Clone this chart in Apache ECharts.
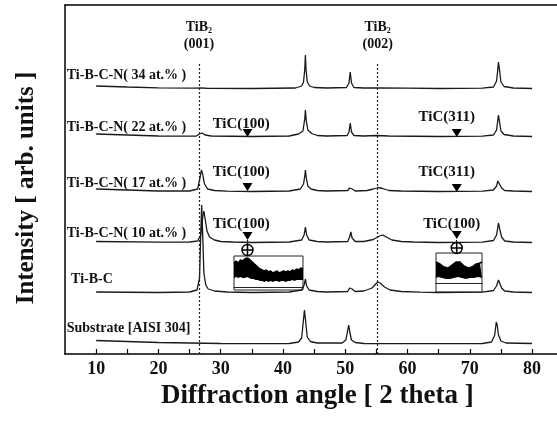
<!DOCTYPE html>
<html>
<head>
<meta charset="utf-8">
<script src="https://cdn.jsdelivr.net/npm/echarts@6/dist/echarts.min.js"></script>
<style>html,body{margin:0;padding:0;background:#fff;}#c{width:557px;height:421px;}</style>
</head>
<body>
<div id="c"></div>
<script>
// ---- data (2theta, intensity above each trace's baseline; arbitrary units) ----
const xTicks = [10, 20, 30, 40, 50, 60, 70, 80];
const traceNames = ['Ti-B-C-N( 34 at.% )', 'Ti-B-C-N( 22 at.% )', 'Ti-B-C-N( 17 at.% )', 'Ti-B-C-N( 10 at.% )', 'Ti-B-C', 'Substrate [AISI 304]'];
const traceOffsets = [265, 217, 162, 111, 61, 10];
const labelLevels = [279, 227, 171, 121, 75, 26];
const labelStarts = [5.2, 5.2, 5.2, 5.2, 5.9, 5.2];

const trace34 = [[10,3],[15,2],[20,1.2],[26,0.8],[27,1],[28,0.6],[35,0.5],[42,1],[43,3],[43.3,7],[43.5,20],[43.6,34],[43.7,20],[43.9,7],[44.3,3],[45,1.5],[47,1],[50.2,1.5],[50.6,6],[50.8,17],[51,6],[51.4,1.5],[53,1],[55,1],[60,0.8],[65,0.5],[72,0.8],[73.8,2],[74.3,8],[74.5,20],[74.6,27],[74.75,20],[75,7],[75.5,2.5],[77,1],[80,0.5]];
const trace22 = [[10,3],[15,2],[20,1],[26,0.8],[26.6,3],[27,4],[27.5,2],[28.5,1],[35,0.5],[41,1],[42.5,3],[43.2,6],[43.5,18],[43.6,27],[43.75,16],[44,7],[44.6,3.5],[45.5,1.5],[47,1],[50.3,1.5],[50.6,5],[50.8,14],[51,5],[51.4,1.5],[53,1],[55,1.5],[57,1],[65,0.5],[72,0.8],[73.8,2],[74.3,7],[74.5,17],[74.6,22],[74.75,16],[75,6],[75.5,2.5],[77,1],[80,0.5]];
const trace17 = [[10,3],[15,2],[20,1],[25,1],[26.3,3],[26.7,15],[26.9,22],[27.1,18],[27.4,8],[27.9,3],[29,1.5],[31,0.8],[35,0.5],[41,1],[42.8,3],[43.3,8],[43.5,16],[43.6,22],[43.75,14],[44,6],[44.5,3],[45.5,1.5],[47,1],[50.4,1.5],[50.7,4],[50.9,5],[51.1,3],[51.6,1],[53.5,1.5],[54.5,3],[55.3,4.5],[56,3.5],[57,1.5],[59,1],[65,0.5],[72,0.8],[73.8,2],[74.3,6],[74.5,11],[74.6,12],[74.8,9],[75.1,4],[75.6,1.5],[77,1],[80,0.5]];
const trace10 = [[10,1.5],[20,0.8],[25,1],[26.3,2],[26.8,8],[27.1,25],[27.3,32],[27.5,24],[27.8,12],[28.2,6],[29,3],[30,1.5],[32,1],[35,0.5],[41,1],[43,3],[43.4,8],[43.6,16],[43.8,8],[44.2,3],[45.5,1.5],[47,1],[50.4,1.5],[50.7,6],[50.9,11],[51.1,5],[51.6,1.5],[53,1.5],[54.5,3.5],[55.5,7],[56,8],[56.6,6],[57.5,3],[59,1.5],[61,1],[65,0.5],[72,0.8],[73.8,2.5],[74.3,8],[74.5,16],[74.6,20],[74.8,14],[75.1,6],[75.6,2],[77,1],[80,0.5]];
const traceTiBC = [[10,1],[20,0.5],[25,1],[26.2,3],[26.6,15],[26.8,60],[26.95,88],[27.1,60],[27.3,20],[27.6,8],[28,4],[29,2],[31,1],[35,0.5],[41,1],[43,3],[43.4,8],[43.6,14],[43.8,7],[44.2,3],[45.5,1.5],[47,1],[50.4,1.5],[50.7,5],[50.9,7],[51.1,4],[51.6,1.5],[53,2],[54.3,5],[55.2,11],[55.6,10],[56.3,6],[57.2,3],[59,1.5],[62,0.8],[65,0.5],[72,0.8],[73.8,2.5],[74.3,7],[74.6,13],[74.8,10],[75.1,5],[75.6,2],[77,1],[80,0.5]];
const traceSub = [[10,3.5],[15,2.5],[20,1.5],[25,1],[30,0.5],[35,0.3],[41,0.5],[42.5,2],[43.0,6],[43.3,25],[43.45,34],[43.6,25],[43.9,7],[44.4,2.5],[45.5,1],[49.5,1],[50.1,4],[50.4,14],[50.55,19],[50.7,13],[51,4],[51.6,1.5],[53,0.5],[60,0.3],[72,0.5],[73.5,2],[74.0,9],[74.25,22],[74.4,19],[74.6,9],[75,3],[75.8,1],[80,0.5]];
const traces = [trace34, trace22, trace17, trace10, traceTiBC, traceSub];

// reference lines (TiB2) and phase annotations
const tib2Pos = [26.5, 55.2];
const tib2Labels = ['(001)', '(002)'];
const ticLabels = ['TiC(100)', 'TiC(100)', 'TiC(100)', 'TiC(311)', 'TiC(311)', 'TiC(100)'];
const ticMarkX = [34.3, 34.3, 34.3, 67.9, 67.9, 67.9];
const ticTextX = [33.3, 33.3, 33.3, 66.3, 66.3, 67.1];
const ticTextY = [230, 182, 130, 237, 182, 130];
const ticMarkY = [221, 167, 118, 221, 166, 119];
const insetRingX = [34.3, 67.9];
const insetRingY = [104, 106];

// inset spectra (zoomed TiC regions): upper and lower edge of the noisy band
const inset1Top = [27,29,27,30,29,31,32,31,29,27,25,23,21,20,19,20,18,19,17,18,19,17,18,19,18,19,18,20,19,21,20,22,21];
const inset1Bot = [12,13,12,13,12,12,13,12,11,11,10,10,9,9,8,9,8,9,8,9,9,8,9,9,8,9,9,10,9,10,10,10,10];
const inset2Top = [30,29,28,27,25,24,24,25,27,29,30,31,30,28,26,25,24,24,25,27,28,30,29,30];
const inset2Bot = [14,15,14,14,13,13,14,13,14,14,15,15,14,14,13,13,13,14,13,14,14,15,14,14];

const FONT = '"Liberation Serif", "Times New Roman", serif';
const INK = '#111';

const chart = echarts.init(document.getElementById('c'), null, {renderer: 'canvas'});

const series = traces.map((t, i) => ({
  type: 'line', name: traceNames[i], xAxisIndex: 0, yAxisIndex: 0,
  data: t.map(p => [p[0], p[1] + traceOffsets[i]]),
  symbol: 'none', lineStyle: {color: '#1a1a1a', width: 1.3}, silent: true, z: 3,
  markPoint: {
    symbol: 'circle', symbolSize: 1, itemStyle: {color: 'rgba(0,0,0,0)'}, silent: true,
    label: {show: true, position: 'right', distance: 0, color: INK, fontFamily: FONT, fontWeight: 'bold', fontSize: 14},
    data: [{coord: [labelStarts[i], labelLevels[i]], value: traceNames[i], label: {formatter: traceNames[i]}}]
  }
}));

// annotation series
const annot = [];
ticLabels.forEach((lab, k) => {
  annot.push({coord: [ticTextX[k], ticTextY[k]], symbol: 'circle', symbolSize: 1, itemStyle: {color: 'rgba(0,0,0,0)'},
    label: {show: true, position: 'inside', formatter: lab, color: INK, fontFamily: FONT, fontWeight: 'bold', fontSize: 15}});
  annot.push({coord: [ticMarkX[k], ticMarkY[k]], symbol: 'triangle', symbolRotate: 180, symbolSize: [10, 8], itemStyle: {color: '#000'}, label: {show: false}});
});
insetRingX.forEach((x, k) => {
  annot.push({coord: [x, insetRingY[k]], symbol: 'path://M10,0A10,10,0,1,1,9.99,0ZM10,0L10,20M0,10L20,10', symbolSize: 11,
    itemStyle: {color: 'rgba(0,0,0,0)', borderColor: '#000', borderWidth: 1.4}, label: {show: false}});
});
tib2Pos.forEach((x, k) => {
  annot.push({coord: [x, 318], symbol: 'circle', symbolSize: 1, itemStyle: {color: 'rgba(0,0,0,0)'},
    label: {show: true, position: 'inside', formatter: '{a|TiB}{s|2}\n{a|' + tib2Labels[k] + '}', color: INK, lineHeight: 17,
      rich: {a: {fontFamily: FONT, fontWeight: 'bold', fontSize: 14, color: INK, lineHeight: 17},
             s: {fontFamily: FONT, fontWeight: 'bold', fontSize: 8, color: INK, padding: [6, 0, 0, 0], lineHeight: 17}}}});
});

series.push({
  type: 'line', name: 'annot', xAxisIndex: 0, yAxisIndex: 0, data: [], silent: true, symbol: 'none',
  markPoint: {silent: true, data: annot},
  markLine: {
    silent: true, symbol: 'none', label: {show: false},
    data: [
      [{coord: [tib2Pos[0], 0], lineStyle: {type: [2, 2]}}, {coord: [tib2Pos[0], 292]}],
      [{coord: [tib2Pos[1], 0], lineStyle: {type: [2, 2]}}, {coord: [tib2Pos[1], 292]}],
      [{coord: [insetRingX[0], 114]}, {coord: [insetRingX[0], 99]}],
      [{coord: [insetRingX[1], 114]}, {coord: [insetRingX[1], 101]}]
    ],
    lineStyle: {color: '#222', width: 1.2, type: 'solid'}
  }
});

function insetBand(top, bot, xi, yi, st) {
  return [
    {type: 'line', xAxisIndex: xi, yAxisIndex: yi, stack: st, data: bot.slice(), symbol: 'none', silent: true, z: 10,
     lineStyle: {width: 0, color: 'rgba(0,0,0,0)'}},
    {type: 'line', xAxisIndex: xi, yAxisIndex: yi, stack: st, data: top.map((v, i) => v - bot[i]), symbol: 'none', silent: true, z: 10,
     lineStyle: {color: '#000', width: 1.5}, areaStyle: {color: '#000', opacity: 1}}
  ];
}
series.push(...insetBand(inset1Top, inset1Bot, 2, 1, 'i1'));
series.push(...insetBand(inset2Top, inset2Bot, 3, 2, 'i2'));

const option = {
  animation: false,
  backgroundColor: '#fff',
  grid: [
    {left: 65, top: 5, right: 0, bottom: 67},
    {left: 234, top: 256, width: 69, height: 34, show: true, borderColor: '#222', borderWidth: 1, backgroundColor: '#fff'},
    {left: 436, top: 253, width: 46, height: 39, show: true, borderColor: '#222', borderWidth: 1, backgroundColor: '#fff'}
  ],
  xAxis: [
    {type: 'value', gridIndex: 0, min: 5, max: 84, position: 'bottom',
     axisLine: {show: true, lineStyle: {color: '#000', width: 1.5}},
     axisTick: {show: true, inside: true, length: 5, customValues: [10,15,20,25,30,35,40,45,50,55,60,65,70,75,80], lineStyle: {color: '#000', width: 1.2}},
     axisLabel: {show: true, customValues: xTicks, color: INK, fontFamily: FONT, fontWeight: 'bold', fontSize: 18, margin: 6},
     splitLine: {show: false}},
    {type: 'value', gridIndex: 0, min: 5, max: 84, position: 'top',
     axisLine: {show: true, onZero: false, lineStyle: {color: '#000', width: 1.5}},
     axisTick: {show: false}, axisLabel: {show: false}, splitLine: {show: false}},
    {type: 'category', gridIndex: 1, boundaryGap: false, data: inset1Top.map((v, i) => i), show: true,
     axisLine: {show: true, onZero: false, lineStyle: {color: '#222', width: 1}}, axisTick: {show: false}, axisLabel: {show: false}, splitLine: {show: false}, offset: -3},
    {type: 'category', gridIndex: 2, boundaryGap: false, data: inset2Top.map((v, i) => i), show: true,
     axisLine: {show: true, onZero: false, lineStyle: {color: '#222', width: 1}}, axisTick: {show: false}, axisLabel: {show: false}, splitLine: {show: false}, offset: -9}
  ],
  yAxis: [
    {type: 'value', gridIndex: 0, min: 0, max: 349,
     axisLine: {show: true, lineStyle: {color: '#000', width: 1.5}},
     axisTick: {show: false}, axisLabel: {show: false}, splitLine: {show: false}},
    {type: 'value', gridIndex: 1, min: 0, max: 34, show: false},
    {type: 'value', gridIndex: 2, min: 0, max: 39, show: false}
  ],
  graphic: [
    {type: 'text', left: 161, top: 383, style: {text: 'Diffraction angle [ 2 theta ]', font: 'bold 27px ' + FONT, fill: INK}},
    {type: 'text', x: 27, y: 188, rotation: Math.PI / 2, style: {text: 'Intensity [ arb. units ]', font: 'bold 25px ' + FONT, fill: INK, textAlign: 'center', textVerticalAlign: 'middle'}}
  ],
  series: series
};
chart.setOption(option);
</script>
</body>
</html>
